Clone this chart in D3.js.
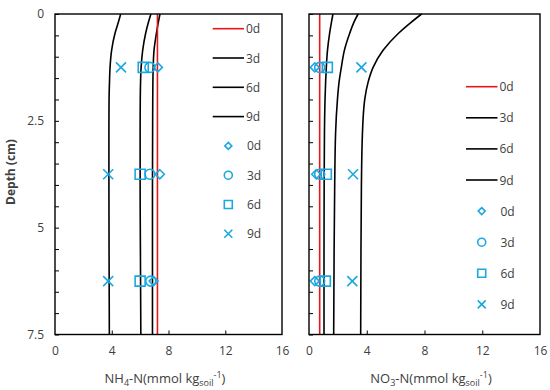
<!DOCTYPE html>
<html><head><meta charset="utf-8">
<script src="https://cdn.jsdelivr.net/npm/d3@7"></script>
<style>body{margin:0;background:#fff}</style>
</head><body>
<svg id="c" width="550" height="390"></svg>
<script>
// ---------- data ----------
const depthCurve = [0, 0.2, 0.45, 0.85, 1.25, 1.6, 2, 2.8, 4, 5.5, 7.5];
const nh4Model = {
  "0d": [7.22, 7.22, 7.22, 7.22, 7.22, 7.22, 7.22, 7.22, 7.22, 7.22, 7.22],
  "3d": [7.4, 7.28, 7.15, 6.98, 6.92, 6.9, 6.89, 6.88, 6.87, 6.87, 6.87],
  "6d": [6.76, 6.58, 6.39, 6.18, 6.07, 6.03, 6.01, 6.0, 6.0, 6.02, 6.05],
  "9d": [4.63, 4.46, 4.23, 3.99, 3.88, 3.84, 3.81, 3.8, 3.8, 3.81, 3.83]
};
const no3Model = {
  "0d": [0.74, 0.74, 0.74, 0.74, 0.74, 0.74, 0.74, 0.74, 0.74, 0.74, 0.74],
  "3d": [1.66, 1.55, 1.43, 1.28, 1.2, 1.15, 1.11, 1.07, 1.05, 1.04, 1.04],
  "6d": [3.4, 3.1, 2.82, 2.45, 2.24, 2.08, 1.97, 1.84, 1.78, 1.74, 1.71],
  "9d": [7.8, 7.05, 6.2, 5.13, 4.44, 4.09, 3.86, 3.7, 3.63, 3.6, 3.58]
};
const depthMeasured = [1.25, 3.75, 6.25];
const nh4Measured = {
  "0d": [7.25, 7.39, 6.95],
  "3d": [6.69, 6.69, 6.75],
  "6d": [6.22, 6.0, 6.0],
  "9d": [4.65, 3.75, 3.75]
};
const no3Measured = {
  "0d": [0.4, 0.5, 0.4],
  "3d": [0.74, 0.74, 0.74],
  "6d": [1.27, 1.2, 1.13],
  "9d": [3.63, 3.05, 3.0]
};
const days = ["0d", "3d", "6d", "9d"];
const xTicks = [0, 4, 8, 12, 16];
const yTickLabels = [0, 2.5, 5, 7.5];
const yMinorTicks = d3.range(0, 7.51, 0.5);

// ---------- drawing ----------
const svg = d3.select("#c");
const FONT = "'Open Sans', 'Noto Sans', sans-serif";
const TXT = "#404040";
const CYAN = "#1BA8E0";
const plotTop = 14, plotBottom = 334.5;

function markerPath(kind, s) {
  const h = s / 2;
  if (kind === "0d") return `M0,${-h}L${h},0L0,${h}L${-h},0Z`;
  if (kind === "3d") return `M${h},0A${h},${h} 0 1,1 ${-h},0A${h},${h} 0 1,1 ${h},0Z`;
  if (kind === "6d") return `M${-h},${-h}H${h}V${h}H${-h}Z`;
  return `M${-h},${-h}L${h},${h}M${h},${-h}L${-h},${h}`;
}

function panel(opt) {
  const x = d3.scaleLinear().domain([0, 16]).range([opt.x0, opt.x1]);
  const y = d3.scaleLinear().domain([0, 7.5]).range([plotTop, plotBottom]);
  const g = svg.append("g");

  g.append("g").attr("transform", `translate(${opt.x0},0)`)
    .call(d3.axisRight(y).tickValues(yMinorTicks).tickSize(4).tickFormat(""))
    .call(a => a.select(".domain").remove())
    .call(a => a.selectAll("line").attr("stroke", "#000").attr("stroke-width", 1));
  g.append("g").attr("transform", `translate(0,${plotBottom})`)
    .call(d3.axisTop(x).tickValues([4, 8, 12]).tickSize(4).tickFormat(""))
    .call(a => a.select(".domain").remove())
    .call(a => a.selectAll("line").attr("stroke", "#000").attr("stroke-width", 1));
  g.append("g").attr("transform", `translate(0,${plotBottom})`)
    .call(d3.axisBottom(x).tickValues(xTicks).tickSize(0).tickPadding(12))
    .call(a => a.select(".domain").remove())
    .call(a => a.selectAll("text").attr("font-family", FONT).attr("font-size", 12).attr("fill", TXT));
  if (opt.yLabels) {
    g.append("g").attr("transform", `translate(${opt.x0},0)`)
      .call(d3.axisLeft(y).tickValues(yTickLabels).tickSize(0).tickPadding(11).tickFormat(d => d))
      .call(a => a.select(".domain").remove())
      .call(a => a.selectAll("text").attr("font-family", FONT).attr("font-size", 12).attr("fill", TXT));
  }

  const line = d3.line().x(d => x(d[0])).y(d => y(d[1])).curve(d3.curveMonotoneY);
  days.slice().reverse().forEach(dd => {
    const pts = opt.model[dd].map((v, i) => [v, depthCurve[i]]);
    g.append("path").attr("d", line(pts)).attr("fill", "none")
      .attr("stroke", dd === "0d" ? "#E8161B" : "#000").attr("stroke-width", 1.6);
  });

  days.forEach(dd => {
    opt.meas[dd].forEach((v, i) => {
      g.append("path").attr("d", markerPath(dd, dd === "0d" ? 9 : 10))
        .attr("transform", `translate(${x(v)},${y(depthMeasured[i])})`)
        .attr("fill", "none").attr("stroke", CYAN).attr("stroke-width", 1.6);
    });
  });

  g.append("rect").attr("x", opt.x0).attr("y", plotTop).attr("width", opt.x1 - opt.x0)
    .attr("height", plotBottom - plotTop).attr("fill", "none").attr("stroke", "#000").attr("stroke-width", 1.4);

  const L = opt.legend;
  days.forEach((dd, i) => {
    const yy = L.y0 + i * L.dy;
    g.append("line").attr("x1", L.lx1).attr("x2", L.lx2).attr("y1", yy).attr("y2", yy)
      .attr("stroke", dd === "0d" ? "#E8161B" : "#000").attr("stroke-width", 1.6);
    g.append("text").attr("x", L.lx2 + 2).attr("y", yy + 4.5).text(dd)
      .attr("font-family", FONT).attr("font-size", 12).attr("fill", TXT);
  });
  days.forEach((dd, i) => {
    const yy = L.y0 + (i + 4) * L.dy;
    g.append("path").attr("d", markerPath(dd, dd === "0d" ? 7 : 8))
      .attr("transform", `translate(${L.mx},${yy})`)
      .attr("fill", "none").attr("stroke", CYAN).attr("stroke-width", 1.6);
    g.append("text").attr("x", L.lx2 + 3).attr("y", yy + 4.5).text(dd)
      .attr("font-family", FONT).attr("font-size", 12).attr("fill", TXT);
  });

  const t = g.append("text").attr("x", opt.titleX).attr("y", 383).attr("text-anchor", "middle")
    .attr("font-family", FONT).attr("font-size", 13).attr("fill", TXT);
  t.append("tspan").text(opt.chem);
  t.append("tspan").text(opt.sub).attr("font-size", 9).attr("dy", 3);
  t.append("tspan").text("-N(mmol kg").attr("dy", -3);
  t.append("tspan").text("soil").attr("font-size", 9).attr("dy", 3);
  t.append("tspan").text("-1").attr("font-size", 9).attr("dy", -8);
  t.append("tspan").text(")").attr("dy", 5);
}

panel({x0: 55, x1: 282, yLabels: true, model: nh4Model, meas: nh4Measured,
  legend: {y0: 28.7, dy: 29.3, lx1: 212.7, lx2: 244, mx: 228.3},
  titleX: 165, chem: "NH", sub: "4"});
panel({x0: 309, x1: 540, yLabels: false, model: no3Model, meas: no3Measured,
  legend: {y0: 86.7, dy: 31.1, lx1: 466, lx2: 497.5, mx: 481.7},
  titleX: 431, chem: "NO", sub: "3"});

svg.append("text").attr("transform", "translate(15,172) rotate(-90)")
  .attr("text-anchor", "middle").attr("font-family", FONT).attr("font-size", 12)
  .attr("font-weight", "bold").attr("fill", TXT).text("Depth (cm)");
</script>
</body></html>
